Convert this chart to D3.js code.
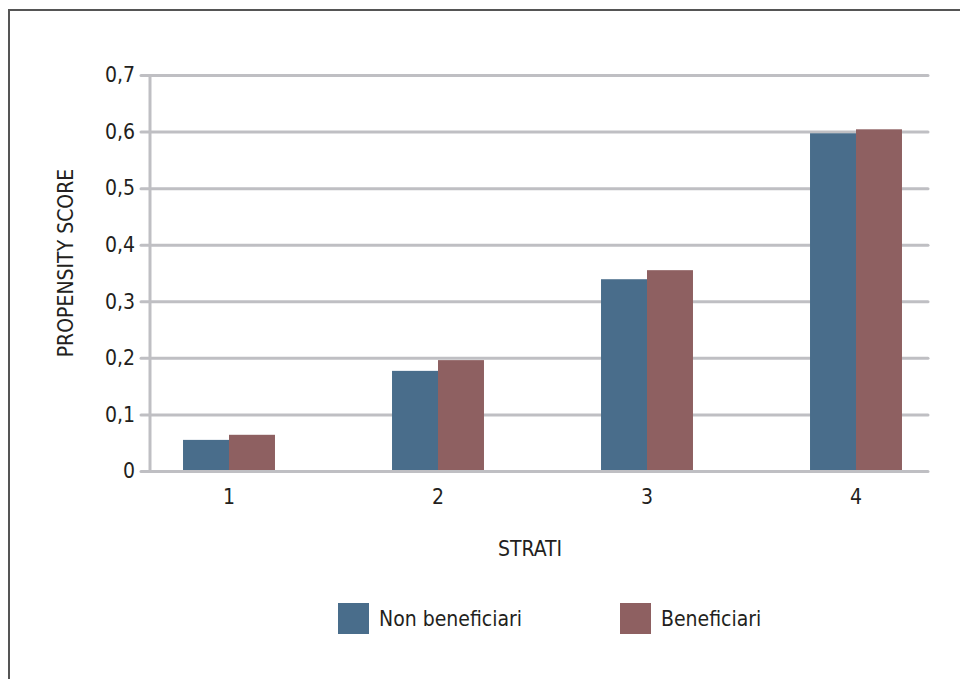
<!DOCTYPE html>
<html>
<head>
<meta charset="utf-8">
<script src="https://cdn.jsdelivr.net/npm/d3@7"></script>
<style>
  html, body { margin: 0; padding: 0; background: #fff; }
  svg { display: block; }
  text { font-family: "Liberation Sans Narrow", "DejaVu Sans Condensed", "Roboto", sans-serif; fill: #231f20; }
</style>
</head>
<body>
<svg id="chart" width="960" height="679"></svg>
<script>
// Propensity score by stratum
const categories = ["1", "2", "3", "4"];
const seriesNames = ["Non beneficiari", "Beneficiari"];
const nonBeneficiari = [0.055, 0.177, 0.339, 0.597];
const beneficiari = [0.064, 0.196, 0.355, 0.604];
const yTicks = [0, 0.1, 0.2, 0.3, 0.4, 0.5, 0.6, 0.7];
const yTickLabels = ["0", "0,1", "0,2", "0,3", "0,4", "0,5", "0,6", "0,7"];
const colors = ["#496d8b", "#8e6061"];

const svg = d3.select("#chart");

// outer frame
svg.append("rect")
  .attr("x", 9).attr("y", 10)
  .attr("width", 980).attr("height", 700)
  .attr("fill", "none").attr("stroke", "#555").attr("stroke-width", 2);

const plotLeft = 150, plotRight = 928;
const y = d3.scaleLinear().domain([0, 0.7]).range([471, 75]);
const x = d3.scaleBand().domain(categories).range([124.5, 960.5])
  .paddingInner(0.56).paddingOuter(0.28);
const xs = d3.scaleBand().domain(seriesNames).range([0, x.bandwidth()]);

const grid = "#bfbfc3";

// gridlines and tick stubs
const yAxis = d3.axisLeft(y).tickValues(yTicks)
  .tickFormat((d, i) => yTickLabels[i])
  .tickSize(-(plotRight - plotLeft)).tickPadding(15);
const gy = svg.append("g").attr("transform", `translate(${plotLeft},0)`).call(yAxis);
gy.select(".domain").remove();
gy.selectAll(".tick line")
  .attr("x1", -9)
  .attr("stroke", grid).attr("stroke-width", 3).attr("stroke-linecap", "round");
gy.selectAll(".tick text")
  .attr("font-size", 21).attr("fill", "#231f20")
  .attr("font-family", "'Liberation Sans Narrow', 'DejaVu Sans Condensed', sans-serif");

// vertical axis line
svg.append("line")
  .attr("x1", plotLeft).attr("x2", plotLeft)
  .attr("y1", y(0.7) - 1).attr("y2", y(0) + 1.5)
  .attr("stroke", grid).attr("stroke-width", 3);

// bars
const rows = categories.map((c, i) => ({ cat: c, vals: [nonBeneficiari[i], beneficiari[i]] }));
const groups = svg.append("g").selectAll("g").data(rows).join("g")
  .attr("transform", d => `translate(${x(d.cat)},0)`);
groups.selectAll("rect")
  .data(d => d.vals.map((v, j) => ({ name: seriesNames[j], v, j })))
  .join("rect")
  .attr("x", d => xs(d.name))
  .attr("width", xs.bandwidth())
  .attr("y", d => y(d.v))
  .attr("height", d => y(0) - 1 - y(d.v))
  .attr("fill", d => colors[d.j]);

// x axis labels
const xAxis = d3.axisBottom(x).tickSize(0).tickPadding(18);
const gx = svg.append("g").attr("transform", `translate(0,${y(0)})`).call(xAxis);
gx.select(".domain").remove();
gx.selectAll(".tick text")
  .attr("font-size", 21).attr("fill", "#231f20")
  .attr("font-family", "'Liberation Sans Narrow', 'DejaVu Sans Condensed', sans-serif");

// axis titles
svg.append("text")
  .attr("x", 530).attr("y", 556)
  .attr("text-anchor", "middle").attr("font-size", 21)
  .text("STRATI");
svg.append("text")
  .attr("transform", "translate(73,263) rotate(-90)")
  .attr("text-anchor", "middle").attr("font-size", 21)
  .text("PROPENSITY SCORE");

// legend
const legendX = [338, 620];
const legend = svg.append("g").selectAll("g").data(seriesNames).join("g")
  .attr("transform", (d, i) => `translate(${legendX[i]},603)`);
legend.append("rect")
  .attr("width", 31).attr("height", 31)
  .attr("fill", (d, i) => colors[i]);
legend.append("text")
  .attr("x", 41).attr("y", 23)
  .attr("font-size", 21)
  .text(d => d);
</script>
</body>
</html>
